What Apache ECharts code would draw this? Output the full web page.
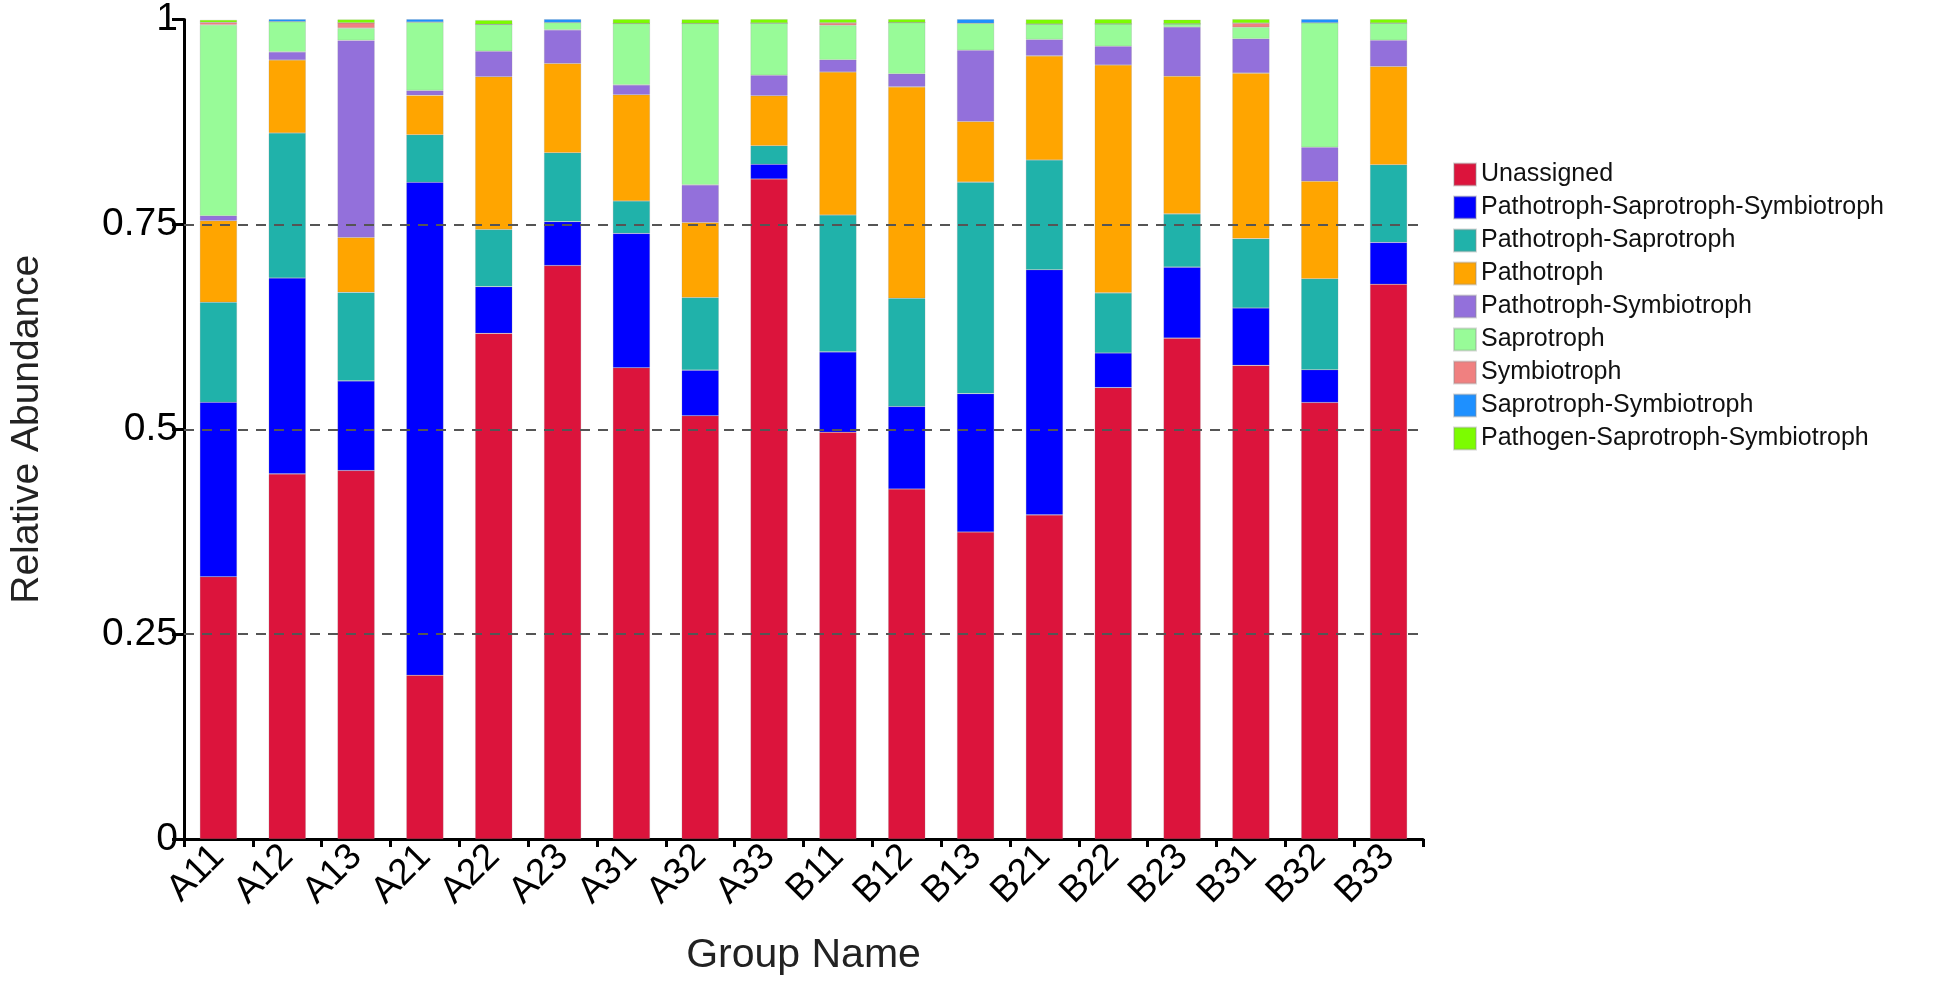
<!DOCTYPE html>
<html>
<head>
<meta charset="utf-8">
<script src="https://cdn.jsdelivr.net/npm/echarts@6/dist/echarts.min.js"></script>
<style>
html,body{margin:0;padding:0;background:#fff;}
#chart{width:1950px;height:981px;}
</style>
</head>
<body>
<div id="chart"></div>
<script>
const categories = ['A11','A12','A13','A21','A22','A23','A31','A32','A33','B11','B12','B13','B21','B22','B23','B31','B32','B33'];
const seriesNames = ['Unassigned','Pathotroph-Saprotroph-Symbiotroph','Pathotroph-Saprotroph','Pathotroph','Pathotroph-Symbiotroph','Saprotroph','Symbiotroph','Saprotroph-Symbiotroph','Pathogen-Saprotroph-Symbiotroph'];
const seriesColors = ['#DC143C','#0000FF','#20B2AA','#FFA500','#9370DB','#98FB98','#F08080','#1E90FF','#7CFC00'];

const unassigned = [0.320,0.4455,0.4496,0.1998,0.617,0.6998,0.575,0.5165,0.8054,0.4964,0.427,0.3746,0.3955,0.5508,0.6112,0.578,0.5326,0.677];
const pathoSaproSymbio = [0.213,0.239,0.1094,0.6016,0.057,0.0536,0.164,0.0556,0.018,0.098,0.1008,0.1689,0.2991,0.0423,0.0866,0.070,0.040,0.051];
const pathoSapro = [0.122,0.177,0.108,0.058,0.0697,0.084,0.0395,0.0886,0.0226,0.167,0.132,0.258,0.134,0.0733,0.065,0.0846,0.111,0.0947];
const pathotroph = [0.0995,0.089,0.067,0.048,0.1865,0.109,0.1297,0.0915,0.061,0.1745,0.258,0.074,0.127,0.278,0.168,0.202,0.119,0.120];
const pathoSymbio = [0.006,0.010,0.2405,0.006,0.031,0.041,0.012,0.046,0.025,0.015,0.016,0.087,0.020,0.023,0.060,0.042,0.0415,0.032];
const saprotroph = [0.233,0.037,0.015,0.0834,0.033,0.009,0.075,0.197,0.0637,0.042,0.0625,0.033,0.019,0.0274,0.004,0.014,0.152,0.021];
const symbiotroph = [0.003,0,0.0065,0,0,0,0,0,0,0.003,0,0,0,0,0,0.005,0,0];
const saproSymbio = [0,0.003,0,0.004,0,0.004,0,0,0,0,0,0.005,0,0,0,0,0.005,0];
const pathogenSaproSymbio = [0.003,0,0.004,0,0.005,0,0.0056,0.005,0.005,0.005,0.005,0,0.0056,0.0056,0.005,0.005,0,0.005];

const yTicks = [0.25, 0.5, 0.75];

const seriesData = [unassigned, pathoSaproSymbio, pathoSapro, pathotroph, pathoSymbio, saprotroph, symbiotroph, saproSymbio, pathogenSaproSymbio];

const chart = echarts.init(document.getElementById('chart'));
const font = 'Liberation Sans, Arial, sans-serif';

const series = seriesNames.map((name, i) => {
  const s = {
    name: name,
    type: 'bar',
    stack: 'total',
    barWidth: '54%',
    data: seriesData[i],
    itemStyle: { color: seriesColors[i], borderColor: 'rgba(140,140,140,0.35)', borderWidth: 0.6 },
    emphasis: { disabled: true },
    animation: false
  };
  if (i === 0) {
    s.markLine = {
      silent: true,
      symbol: 'none',
      label: { show: false },
      lineStyle: { color: '#555', type: [10, 8], width: 2 },
      data: yTicks.map(v => ({ yAxis: v }))
    };
  }
  return s;
});

chart.setOption({
  animation: false,
  backgroundColor: '#fff',
  grid: { left: 179, right: 527, top: 17, bottom: 138, containLabel: false },
  legend: {
    orient: 'vertical',
    left: 1453,
    top: 162,
    padding: 0,
    itemWidth: 22,
    itemHeight: 22,
    itemGap: 8,
    icon: 'rect',
    selectedMode: false,
    textStyle: { fontFamily: font, fontSize: 25, color: '#111', lineHeight: 25 },
    data: seriesNames
  },
  xAxis: {
    type: 'category',
    data: categories,
    boundaryGap: true,
    name: 'Group Name',
    nameLocation: 'middle',
    nameGap: 96,
    nameTextStyle: { fontFamily: font, fontSize: 41, color: '#222' },
    axisLine: { lineStyle: { color: '#000', width: 3 } },
    axisTick: { show: true, length: 8, lineStyle: { color: '#000', width: 3 } },
    axisLabel: { rotate: 45, fontFamily: font, fontSize: 37, color: '#000', margin: 12 },
    splitLine: { show: false }
  },
  yAxis: {
    type: 'value',
    min: 0,
    max: 1,
    interval: 0.25,
    name: 'Relative Abundance',
    nameLocation: 'middle',
    nameGap: 137,
    nameTextStyle: { fontFamily: font, fontSize: 39, color: '#222' },
    axisLine: { show: true, lineStyle: { color: '#000', width: 3 } },
    axisTick: { show: true, length: 12, lineStyle: { color: '#000', width: 3 } },
    axisLabel: { fontFamily: font, fontSize: 39, color: '#000', margin: 6 },
    splitLine: { show: false }
  },
  series: series
});
</script>
</body>
</html>
